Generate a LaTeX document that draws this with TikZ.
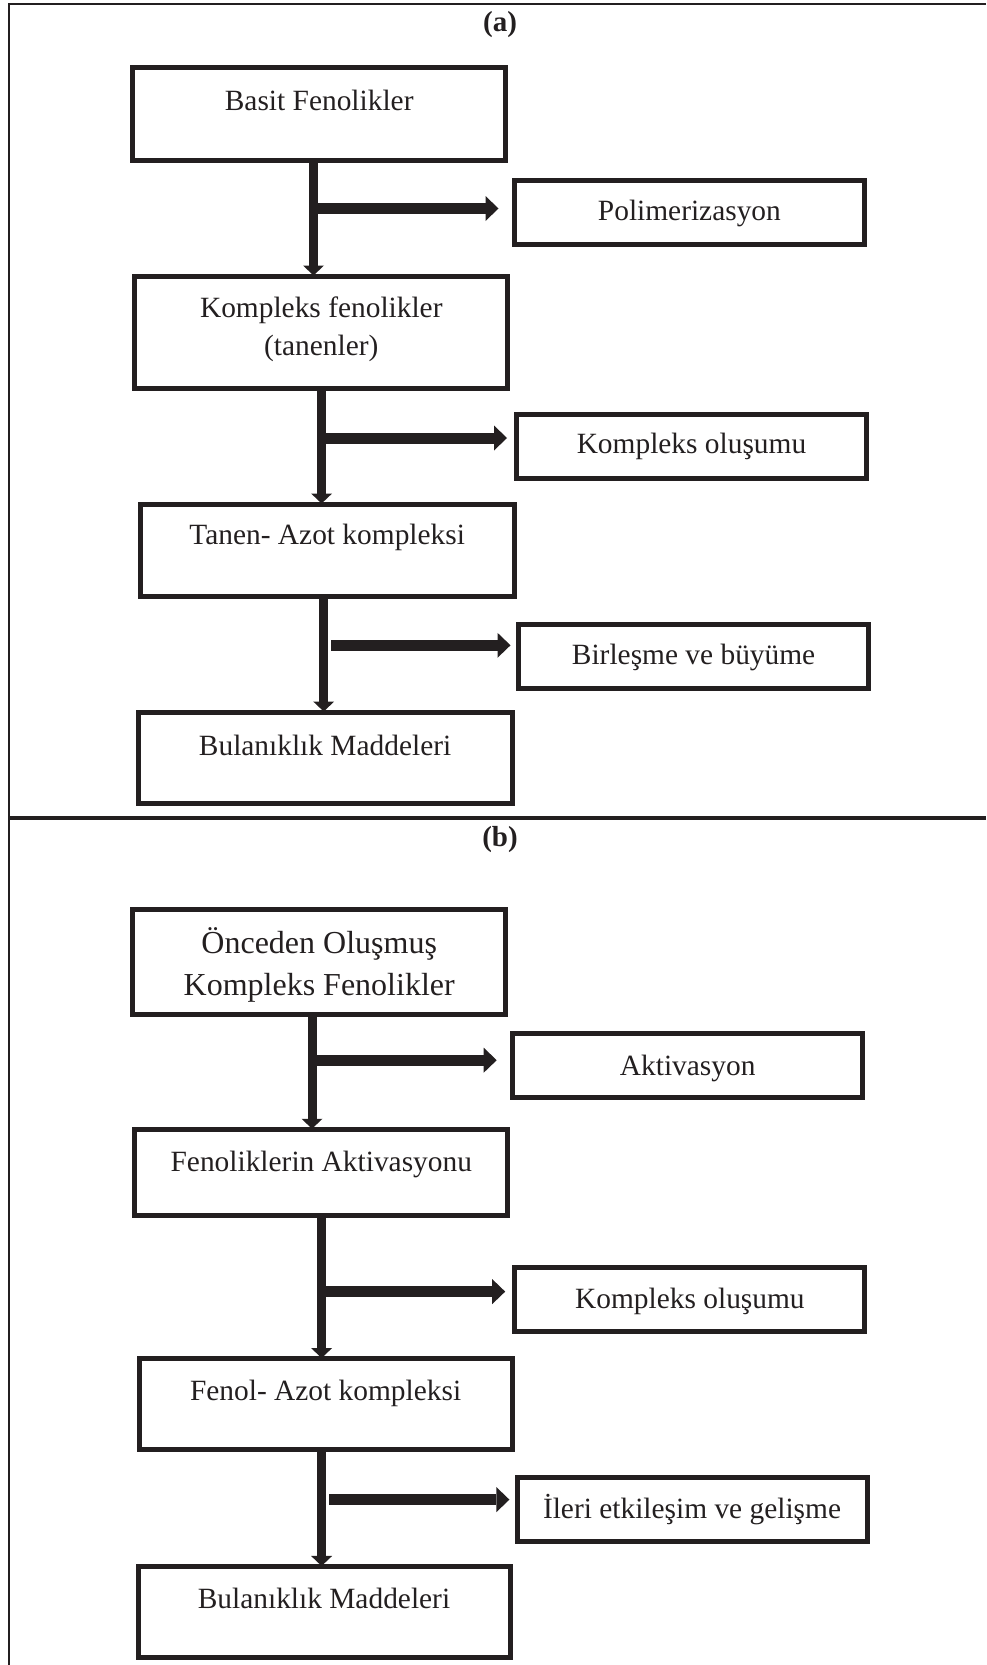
\documentclass[tikz,border=0pt]{standalone}
\usepackage{fontspec}
\setmainfont{Liberation Serif}
\usetikzlibrary{arrows.meta}
\definecolor{ink}{RGB}{35,31,32}
\begin{document}
\begin{tikzpicture}[x=1pt,y=-1pt,
  box/.style={draw=ink, line width=5pt, inner sep=0pt, rectangle},
  rbox/.style={box, minimum width=350pt, minimum height=64pt},
  txt/.style={font=\fontsize{29.4}{34}\selectfont, text=ink, inner sep=0pt, anchor=base},
  bigtxt/.style={font=\fontsize{32}{38}\selectfont, text=ink, inner sep=0pt, anchor=base},
  ttl/.style={font=\fontsize{29}{34}\selectfont\bfseries, text=ink, inner sep=0pt, anchor=base},
  down/.style={draw=ink, line width=9pt, -{Triangle[length=10pt,width=21pt,line width=0pt]}, shorten >=-2pt},
  side/.style={draw=ink, line width=11pt, -{Triangle[length=13pt,width=25pt,line width=0pt]}},
  framel/.style={draw=ink, line width=2.5pt},
  divl/.style={draw=ink, line width=4pt}]
\useasboundingbox (0,0) rectangle (986,1665);
% frame
\coordinate (ftr) at (986,4);
\coordinate (ftl) at (9,4);
\coordinate (fbl) at (9,1665);
\coordinate (dl) at (9,818);
\coordinate (dr) at (986,818);
\draw[framel] (ftr) -- (ftl) -- (fbl);
\draw[divl] (dl) -- (dr);
% titles
\node[ttl] (ta) at (500,31.5) {(a)};
\node[ttl] (tb) at (500,846.5) {(b)};
% ---- part (a)
\node[box, minimum width=373pt, minimum height=93pt] (a1) at (319.2,114.4) {};
\node[txt] (a1t) at (319.2,110) {Basit Fenolikler};
\node[rbox] (p1) at (689.4,212.6) {};
\node[txt] (p1t) at (689.4,220) {Polimerizasyon};
\node[box, minimum width=373pt, minimum height=112pt] (a2) at (321.3,332) {};
\node[txt] (a2t) at (321.3,317) {Kompleks fenolikler};
\node[txt] (a2u) at (321.3,355.3) {(tanenler)};
\node[rbox] (p2) at (691.5,446) {};
\node[txt] (p2t) at (691.5,453.2) {Kompleks oluşumu};
\node[box, minimum width=374pt, minimum height=92pt] (a3) at (327.2,550) {};
\node[txt] (a3t) at (327.2,544.2) {Tanen- Azot kompleksi};
\node[rbox] (p3) at (693.6,656.2) {};
\node[txt] (p3t) at (693.6,664.6) {Birleşme ve büyüme};
\node[box, minimum width=374pt, minimum height=91pt] (a4) at (325.1,757.5) {};
\node[txt] (a4t) at (325.1,755.5) {Bulanıklık Maddeleri};
% ---- part (b)
\node[box, minimum width=373pt, minimum height=104.5pt] (b1) at (319.2,961.9) {};
\node[bigtxt] (b1t) at (319.2,953.5) {Önceden Oluşmuş};
\node[bigtxt] (b1u) at (319.2,995.9) {Kompleks Fenolikler};
\node[rbox] (q1) at (687.7,1065.8) {};
\node[txt] (q1t) at (687.7,1075.2) {Aktivasyon};
\node[box, minimum width=373pt, minimum height=86.5pt] (b2) at (321.3,1172.5) {};
\node[txt] (b2t) at (321.3,1171) {Fenoliklerin Aktivasyonu};
\node[rbox] (q2) at (689.9,1299.3) {};
\node[txt] (q2t) at (689.9,1308.8) {Kompleks oluşumu};
\node[box, minimum width=373pt, minimum height=90.7pt] (b3) at (325.6,1403.9) {};
\node[txt] (b3t) at (325.6,1400) {Fenol- Azot kompleksi};
\node[rbox] (q3) at (692,1509.5) {};
\node[txt] (q3t) at (692,1518.2) {İleri etkileşim ve gelişme};
\node[box, minimum width=372pt, minimum height=91.5pt] (b4) at (324,1612.2) {};
\node[txt] (b4t) at (324,1608.8) {Bulanıklık Maddeleri};
% vertical line positions
\coordinate (v1) at (313.5,0);
\coordinate (v2) at (321.6,0);
\coordinate (v3) at (323.7,0);
\coordinate (v4) at (312,0);
\coordinate (v5) at (321.6,0);
\coordinate (v6) at (321.6,0);
% vertical arrows
\draw[down] (a1.south -| v1) -- (a2.north -| v1);
\draw[down] (a2.south -| v2) -- (a3.north -| v2);
\draw[down] (a3.south -| v3) -- (a4.north -| v3);
\draw[down] (b1.south -| v4) -- (b2.north -| v4);
\draw[down] (b2.south -| v5) -- (b3.north -| v5);
\draw[down] (b3.south -| v6) -- (b4.north -| v6);
% side arrows
\coordinate (h1s) at (313.5,208.5);  \coordinate (h1e) at (498.5,208.5);
\coordinate (h2s) at (321.6,438);    \coordinate (h2e) at (507,438);
\coordinate (h3s) at (331,645.3);    \coordinate (h3e) at (510.5,645.3);
\coordinate (h4s) at (312,1060.2);   \coordinate (h4e) at (496.7,1060.2);
\coordinate (h5s) at (321.6,1291.6); \coordinate (h5e) at (505.2,1291.6);
\coordinate (h6s) at (329.3,1499.6); \coordinate (h6e) at (509.4,1499.6);
\draw[side] (h1s) -- (h1e);
\draw[side] (h2s) -- (h2e);
\draw[side] (h3s) -- (h3e);
\draw[side] (h4s) -- (h4e);
\draw[side] (h5s) -- (h5e);
\draw[side] (h6s) -- (h6e);
\end{tikzpicture}
\end{document}
